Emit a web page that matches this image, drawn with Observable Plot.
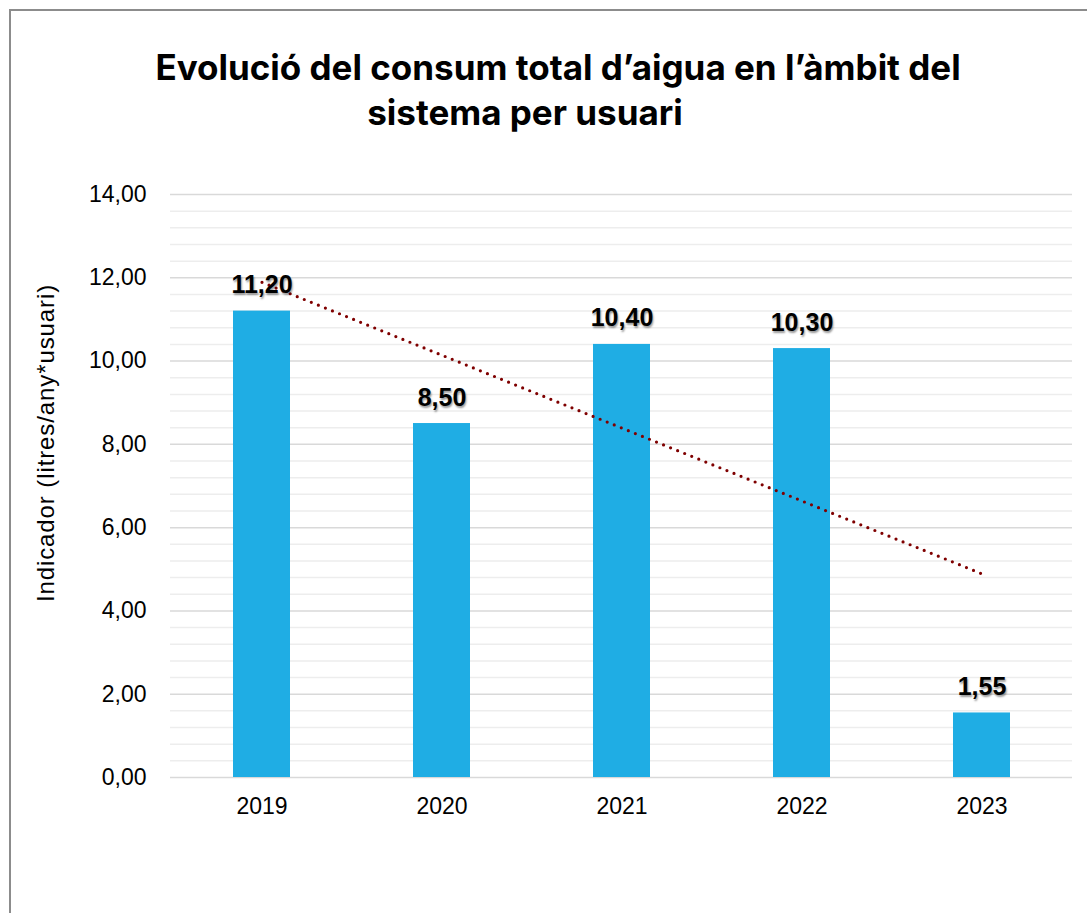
<!DOCTYPE html>
<html>
<head>
<meta charset="utf-8">
<script src="https://cdn.jsdelivr.net/npm/d3@7"></script>
<script src="https://cdn.jsdelivr.net/npm/@observablehq/plot@0.6"></script>
<style>
  html, body { margin: 0; padding: 0; background: #fff; overflow: hidden; }
  #wrap { position: relative; width: 1087px; height: 913px; }
  #frame { position: absolute; left: 9px; top: 9px; width: 1200px; height: 1200px; border: 2px solid #8c8c8c; box-sizing: border-box; }
  .title { position: absolute; font-family: "Inter", "Liberation Sans", sans-serif; font-weight: 700; font-size: 35px; line-height: 40px; color: #000; white-space: nowrap; transform: translateX(-50%); }
  #ylab { position: absolute; left: 46px; top: 443px; font-family: "Liberation Sans", Arial, sans-serif; font-size: 24px; letter-spacing: 0.9px; color: #000; white-space: nowrap; transform: translate(-50%, -50%) rotate(-90deg); }
  #chart { position: absolute; left: 0; top: 0; }
  .lbl text { text-shadow: 1px 2px 2px rgba(0,0,0,0.4); }
</style>
</head>
<body>
<div id="wrap">
  <div id="frame"></div>
  <div id="chart"></div>
  <div class="title" style="left:558px; top:47px;">Evolució del consum total d’aigua en l’àmbit del</div>
  <div class="title" style="left:525px; top:92px;">sistema per usuari</div>
  <div id="ylab"></div>
</div>
<script>
const years = ["2019", "2020", "2021", "2022", "2023"];
const values = [11.20, 8.50, 10.40, 10.30, 1.55];
const yTicks = [0, 2, 4, 6, 8, 10, 12, 14];
const yLabel = "Indicador (litres/any*usuari)";

document.getElementById("ylab").textContent = yLabel;

const data = years.map((y, i) => ({ year: y, value: values[i] }));

// linear trendline (least squares over category index)
const xs = values.map((_, i) => i + 1);
const mx = d3.mean(xs), my = d3.mean(values);
const slope = d3.sum(xs.map((x, i) => (x - mx) * (values[i] - my))) / d3.sum(xs.map(x => (x - mx) ** 2));
const trend = years.map((y, i) => ({ year: y, value: my + slope * (xs[i] - mx) }));

const minorTicks = d3.range(0, 14.0001, 0.4).filter(v => !yTicks.some(t => Math.abs(t - v) < 1e-6));
const fmt = v => v.toFixed(2).replace(".", ",");

const chart = Plot.plot({
  width: 1087,
  height: 913,
  marginLeft: 170,
  marginRight: 15,
  marginTop: 194,
  marginBottom: 136,
  style: { fontFamily: "'Liberation Sans', Arial, sans-serif", background: "transparent", overflow: "visible" },
  x: { domain: years, paddingInner: 0.685, paddingOuter: 0.3425, label: null },
  y: { domain: [0, 14], label: null },
  marks: [
    Plot.ruleY(minorTicks, { stroke: "#ededed", strokeWidth: 1.5 }),
    Plot.ruleY(yTicks, { stroke: "#d9d9d9", strokeWidth: 1.5 }),
    Plot.barY(data, { x: "year", y: "value", fill: "#1fade4" }),
    Plot.line(trend, { x: "year", y: "value", stroke: "#7f0000", strokeWidth: 3.2, strokeDasharray: "0,7.6", strokeLinecap: "round" }),
    Plot.text(data, { x: "year", y: "value", text: d => fmt(d.value), dy: -26, fontSize: 25, fontWeight: "bold", fill: "#000", className: "lbl" }),
    Plot.axisX({ tickSize: 0, tickPadding: 20, fontSize: 23, fill: "#000", label: null }),
    Plot.axisY({ ticks: yTicks, tickFormat: fmt, tickSize: 0, tickPadding: 24, fontSize: 23, fill: "#000", label: null })
  ]
});
document.getElementById("chart").appendChild(chart);
</script>
</body>
</html>
